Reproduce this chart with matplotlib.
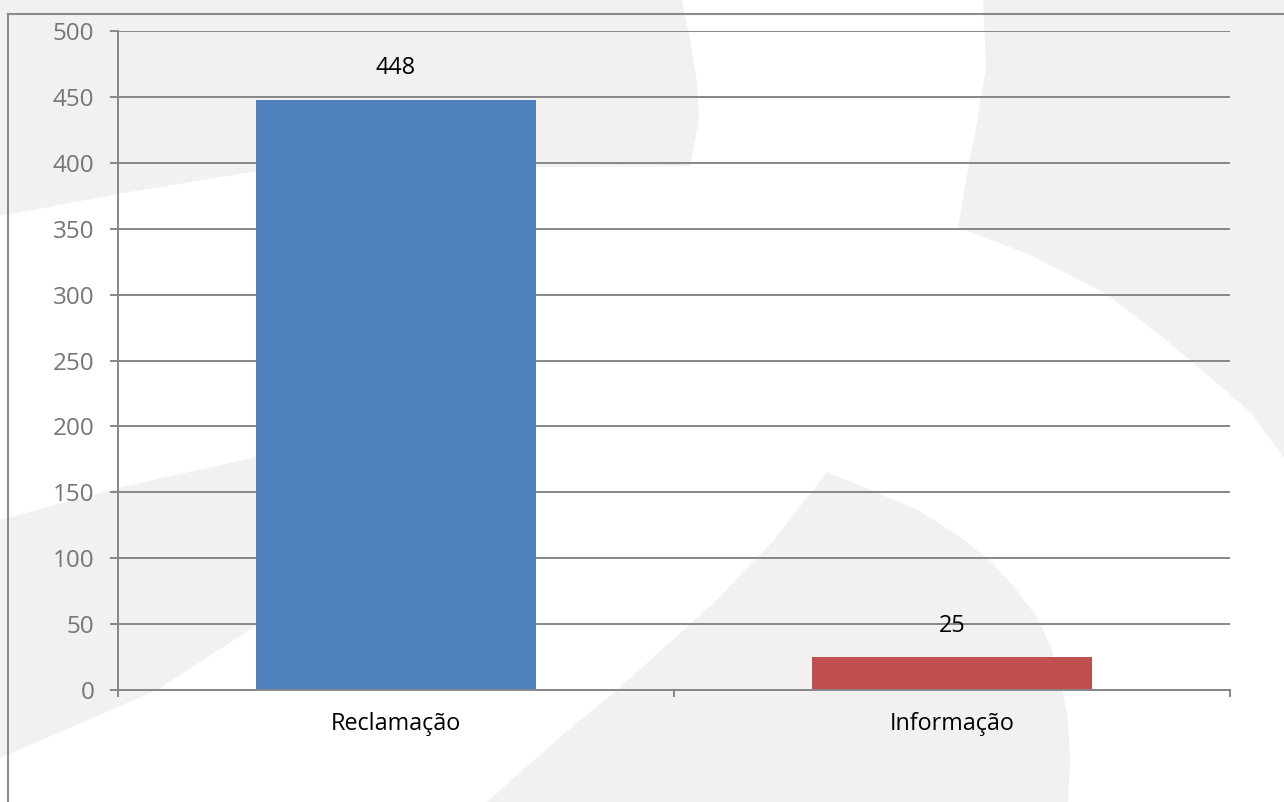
import numpy as np
import matplotlib
matplotlib.use("Agg")
import matplotlib.pyplot as plt
from matplotlib.patches import Polygon
from matplotlib.lines import Line2D

# ---- data ----
categories = ["Reclamação", "Informação"]
values = [448, 25]
bar_colors = ["#4F81BD", "#C0504D"]
y_ticks = [0, 50, 100, 150, 200, 250, 300, 350, 400, 450, 500]

W, H = 1284, 802
plt.rcParams['font.family'] = ['Open Sans', 'DejaVu Sans']
fig = plt.figure(figsize=(W / 100, H / 100), dpi=100)
fig.patch.set_facecolor("white")

def px(points):
    return [(x / W, 1 - y / H) for x, y in points]

bg = "#F2F1EF"
shapes = [
    # top-left
    [(0, 0), (682, 0), (690, 40), (697, 83), (699, 120), (690, 166), (540, 167),
     (257, 171), (118, 194), (0, 216)],
    # top-right
    [(983, 0), (1284, 0), (1284, 458), (1250, 412), (1217, 383), (1160, 335),
     (1105, 293), (1030, 255), (958, 227), (966, 180), (975, 133), (986, 67)],
    # left band
    [(0, 520), (118, 488), (257, 457), (500, 445), (500, 480), (257, 625),
     (157, 690), (0, 758)],
    # lower swoosh
    [(827, 472), (870, 490), (918, 510), (960, 537), (989, 560), (1015, 588),
     (1037, 617), (1052, 650), (1061, 683), (1068, 720), (1070, 760), (1068, 802),
     (487, 802), (560, 737), (617, 690), (667, 645), (717, 600), (774, 540),
     (805, 500)],
]
for s in shapes:
    fig.patches.append(Polygon(px(s), closed=True, transform=fig.transFigure,
                               facecolor=bg, edgecolor="none", zorder=-10))

# frame lines (top and left)
border = "#8C8C8C"
fig.lines.append(Line2D([8 / W, 1.0], [1 - 14 / H, 1 - 14 / H], transform=fig.transFigure,
                        color=border, lw=1.5, zorder=-5))
fig.lines.append(Line2D([8 / W, 8 / W], [1 - 14 / H, 0.0], transform=fig.transFigure,
                        color=border, lw=1.5, zorder=-5))

ax = fig.add_axes([118 / W, 1 - 690 / H, (1230 - 118) / W, (690 - 31) / H])
ax.set_facecolor("none")

x = np.arange(len(categories)) + 0.5
bars = ax.bar(x, values, width=0.502, color=bar_colors, zorder=3)

grid_c = "#878787"
ax.set_xlim(0, len(categories))
ax.set_ylim(0, 500)
ax.set_yticks(y_ticks)
ax.yaxis.grid(True, color=grid_c, lw=1.4)
ax.set_axisbelow(True)

for sp in ["top", "right"]:
    ax.spines[sp].set_visible(False)
for sp in ["left", "bottom"]:
    ax.spines[sp].set_color(grid_c)
    ax.spines[sp].set_linewidth(1.4)
    ax.spines[sp].set_zorder(4)

ax.tick_params(axis="y", direction="out", length=6, width=1.4, color=grid_c,
               labelcolor="#767676", labelsize=17.5, pad=11)
ax.set_xticks(np.arange(len(categories) + 1))
ax.set_xticklabels([])
ax.tick_params(axis="x", which="major", direction="out", length=5, width=1.4, color=grid_c)
ax.set_xticks(x, minor=True)
ax.set_xticklabels(categories, minor=True)
ax.tick_params(axis="x", which="minor", length=0, labelsize=16.8, labelcolor="black", pad=16)

for xi, v in zip(x, values):
    ax.annotate(str(v), (xi, v), xytext=(0, 14), textcoords="offset points",
                ha="center", va="bottom", fontsize=16.8, color="black")

fig.savefig("out.png", dpi=100, facecolor=fig.get_facecolor())
